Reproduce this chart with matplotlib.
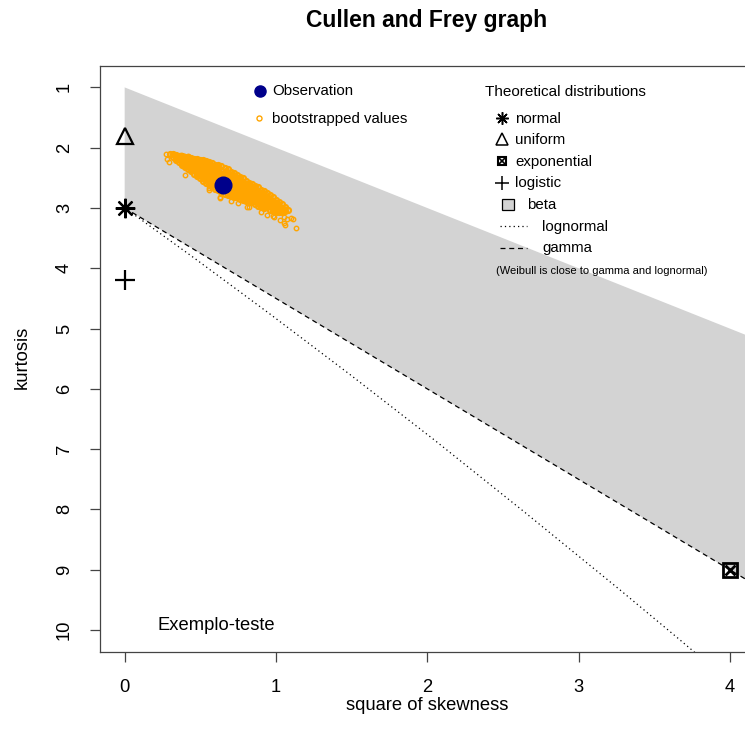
import matplotlib
matplotlib.use('Agg')
import matplotlib.pyplot as plt
from matplotlib.lines import Line2D
from matplotlib.patches import Rectangle

plt.rcParams['font.family'] = ['Liberation Sans', 'DejaVu Sans']

# Observed point (square of skewness, kurtosis)
obs_x = [0.65]
obs_y = [2.62]

# Bootstrapped values (core band, column by column)
boot_cols = {
    0.30: [2.11],
    0.32: [2.11, 2.16],
    0.34: [2.12, 2.17, 2.21],
    0.36: [2.13, 2.19, 2.24],
    0.38: [2.14, 2.19, 2.25, 2.28],
    0.40: [2.15, 2.21, 2.27, 2.32],
    0.42: [2.16, 2.22, 2.28, 2.35],
    0.44: [2.17, 2.23, 2.29, 2.35, 2.39],
    0.46: [2.19, 2.25, 2.31, 2.37, 2.43],
    0.48: [2.19, 2.25, 2.31, 2.37, 2.43, 2.47],
    0.50: [2.20, 2.26, 2.32, 2.38, 2.44, 2.51],
    0.52: [2.21, 2.27, 2.33, 2.39, 2.45, 2.51, 2.55],
    0.54: [2.22, 2.28, 2.34, 2.40, 2.46, 2.52, 2.58],
    0.56: [2.24, 2.30, 2.36, 2.42, 2.48, 2.54, 2.60],
    0.58: [2.25, 2.31, 2.37, 2.43, 2.49, 2.55, 2.61, 2.65],
    0.60: [2.28, 2.34, 2.40, 2.46, 2.52, 2.58, 2.64, 2.68],
    0.62: [2.29, 2.35, 2.41, 2.47, 2.53, 2.59, 2.65, 2.71],
    0.64: [2.31, 2.37, 2.43, 2.49, 2.55, 2.61, 2.67, 2.73],
    0.66: [2.34, 2.40, 2.46, 2.52, 2.58, 2.64, 2.70, 2.76],
    0.68: [2.36, 2.42, 2.48, 2.54, 2.60, 2.66, 2.72, 2.78],
    0.70: [2.40, 2.46, 2.52, 2.58, 2.64, 2.70, 2.76, 2.80],
    0.72: [2.42, 2.48, 2.54, 2.60, 2.66, 2.72, 2.78, 2.82],
    0.74: [2.45, 2.51, 2.57, 2.63, 2.69, 2.75, 2.81],
    0.76: [2.49, 2.55, 2.61, 2.67, 2.73, 2.79, 2.85],
    0.78: [2.51, 2.57, 2.63, 2.69, 2.75, 2.81, 2.87],
    0.80: [2.55, 2.61, 2.67, 2.73, 2.79, 2.85, 2.89],
    0.82: [2.58, 2.64, 2.70, 2.76, 2.82, 2.88],
    0.84: [2.60, 2.66, 2.72, 2.78, 2.84, 2.90],
    0.86: [2.64, 2.70, 2.76, 2.82, 2.88, 2.94],
    0.88: [2.66, 2.72, 2.78, 2.84, 2.90, 2.96],
    0.90: [2.70, 2.76, 2.82, 2.88, 2.94, 2.98],
    0.92: [2.72, 2.78, 2.84, 2.90, 2.96, 3.00],
    0.94: [2.75, 2.81, 2.87, 2.93, 2.99],
    0.96: [2.79, 2.85, 2.91, 2.97, 3.03],
    0.98: [2.82, 2.88, 2.94, 3.00, 3.05],
    1.00: [2.86, 2.92, 2.98, 3.04, 3.07],
    1.02: [2.90, 2.96, 3.02, 3.07],
    1.04: [2.94, 3.00, 3.06],
    1.06: [2.99, 3.05],
    1.08: [3.04],
}

# scattered bootstrapped values around the band
boot_out_x = [0.27, 0.28, 0.29, 0.34, 0.39, 0.42, 0.39, 0.40, 0.54, 0.57,
              0.68, 0.56, 0.63, 0.70, 0.75, 0.82, 0.86, 0.92, 0.98, 0.90,
              0.94, 0.99, 1.06, 1.05, 1.07, 1.10, 1.11, 1.06, 1.13, 1.03,
              0.37, 0.37, 0.54, 0.85, 0.91, 0.98, 0.81, 0.63, 0.56, 1.05]
boot_out_y = [2.10, 2.18, 2.24, 2.12, 2.14, 2.14, 2.31, 2.45, 2.27, 2.31,
              2.41, 2.70, 2.81, 2.88, 2.92, 2.98, 2.68, 2.75, 2.89, 3.06,
              3.12, 3.15, 3.02, 3.15, 3.19, 3.16, 3.19, 3.28, 3.34, 3.20,
              2.12, 2.18, 2.26, 2.67, 2.75, 3.14, 2.98, 2.84, 2.67, 3.25]

# Theoretical distributions
normal = (0, 3.0)
uniform = (0, 1.8)
logistic = (0, 4.2)
exponential = (4, 9.0)

# Beta region and theoretical lines
beta_x = [0, 4.5, 4.5, 0]
beta_y = [1, 5.5, 9.75, 3]
gamma_x = [0, 4.5]
gamma_y = [3, 9.75]
lnorm_x = [0, 0.09, 0.465, 0.961, 1.488, 2.048, 2.641, 3.267, 3.659, 3.928]
lnorm_y = [3, 3.16, 3.84, 4.76, 5.76, 6.85, 8.04, 9.32, 10.14, 10.71]

W, H = 745, 742
fig = plt.figure(figsize=(W / 100, H / 100), dpi=100)
ax = fig.add_axes([100 / W, 1 - 651.7 / H, 654 / W, 586 / H])

ax.fill(beta_x, beta_y, color='#d3d3d3', lw=0)
ax.plot(gamma_x, gamma_y, color='black', lw=0.9, dashes=(4, 3))
ax.plot(lnorm_x, lnorm_y, color='black', lw=0.9, dashes=(1, 2.5))

bx, by = [], []
for k, v in boot_cols.items():
    bx += [k] * len(v)
    by += v
ax.plot(bx, by, 'o', ms=3.6, mfc='none', mec='orange', mew=1.6)
ax.plot(boot_out_x, boot_out_y, 'o', ms=3.2, mfc='none', mec='orange', mew=1.0)
ax.plot(obs_x, obs_y, 'o', ms=12, color='darkblue')

ax.plot(*normal, marker=(8, 2, 0), ms=14, color='black', mew=1.6, clip_on=False)
ax.plot(*uniform, marker='^', ms=12, mfc='none', mec='black', mew=1.6, clip_on=False)
ax.plot(*logistic, marker='+', ms=15, color='black', mew=1.6, clip_on=False)
ax.plot(*exponential, marker='s', ms=10, mfc='none', mec='black', mew=2, clip_on=False)
ax.plot(*exponential, marker='x', ms=7, color='black', mew=2, clip_on=False)

ax.text(0.22, 9.93, 'Exemplo-teste', fontsize=13.2, ha='left', va='center')

ax.set_xlim(-0.163, 4.16)
ax.set_ylim(10.36, 0.64)
ax.set_xticks([0, 1, 2, 3, 4])
ax.set_yticks(range(1, 11))
for lab in ax.get_yticklabels():
    lab.set_rotation(90)
    lab.set_va('center')
ax.tick_params(labelsize=13.2, length=7.5, width=0.9, color='#444444')
ax.tick_params(axis='x', pad=12)
ax.tick_params(axis='y', pad=12)
for s in ax.spines.values():
    s.set_color('#444444')
    s.set_linewidth(0.9)

fig.text(427 / W, 1 - 20 / H, 'Cullen and Frey graph', fontsize=16.5,
         fontweight='bold', ha='center', va='center')
fig.text(427 / W, 1 - 705 / H, 'square of skewness', fontsize=13.2,
         ha='center', va='center')
fig.text(22 / W, 1 - 357 / H, 'kurtosis', fontsize=13.2, rotation=90,
         ha='center', va='center')


# legend pieces, positions in figure pixels
def fx(px):
    return px / W


def fy(py):
    return 1 - py / H


def mark(px, py, **kw):
    fig.add_artist(Line2D([fx(px)], [fy(py)], **kw))


def label(px, py, s, size=10.8):
    fig.text(fx(px), fy(py), s, fontsize=size, ha='left', va='center')


mark(260, 91, marker='o', ms=8, color='darkblue')
label(272, 91, 'Observation')
mark(259, 118, marker='o', ms=3.6, mfc='none', mec='orange', mew=1)
label(272, 119, 'bootstrapped values')

label(485, 92, 'Theoretical distributions', 11)
mark(502, 118, marker=(8, 2, 0), ms=9, color='black', mew=1.1)
label(515, 119, 'normal')
mark(502, 139, marker='^', ms=8, mfc='none', mec='black', mew=1.1)
label(515, 140, 'uniform')
mark(502, 161, marker='s', ms=6, mfc='none', mec='black', mew=1.5)
mark(502, 161, marker='x', ms=4, color='black', mew=1.2)
label(515, 162, 'exponential')
mark(502, 183, marker='+', ms=10, color='black', mew=1.1)
label(515, 183, 'logistic')
fig.add_artist(Rectangle((fx(502), fy(210)), 12 / W, 11 / H,
                         facecolor='#d3d3d3', edgecolor='black', lw=0.9))
label(527, 205, 'beta')
fig.add_artist(Line2D([fx(500), fx(527)], [fy(226), fy(226)], color='black',
                      lw=0.9, dashes=(1, 2.5)))
label(542, 227, 'lognormal')
fig.add_artist(Line2D([fx(500), fx(527)], [fy(248), fy(248)], color='black',
                      lw=0.9, dashes=(4, 3)))
label(542, 248, 'gamma')
label(496, 271, '(Weibull is close to gamma and lognormal)', 8.0)

fig.savefig('out.png', dpi=100)
